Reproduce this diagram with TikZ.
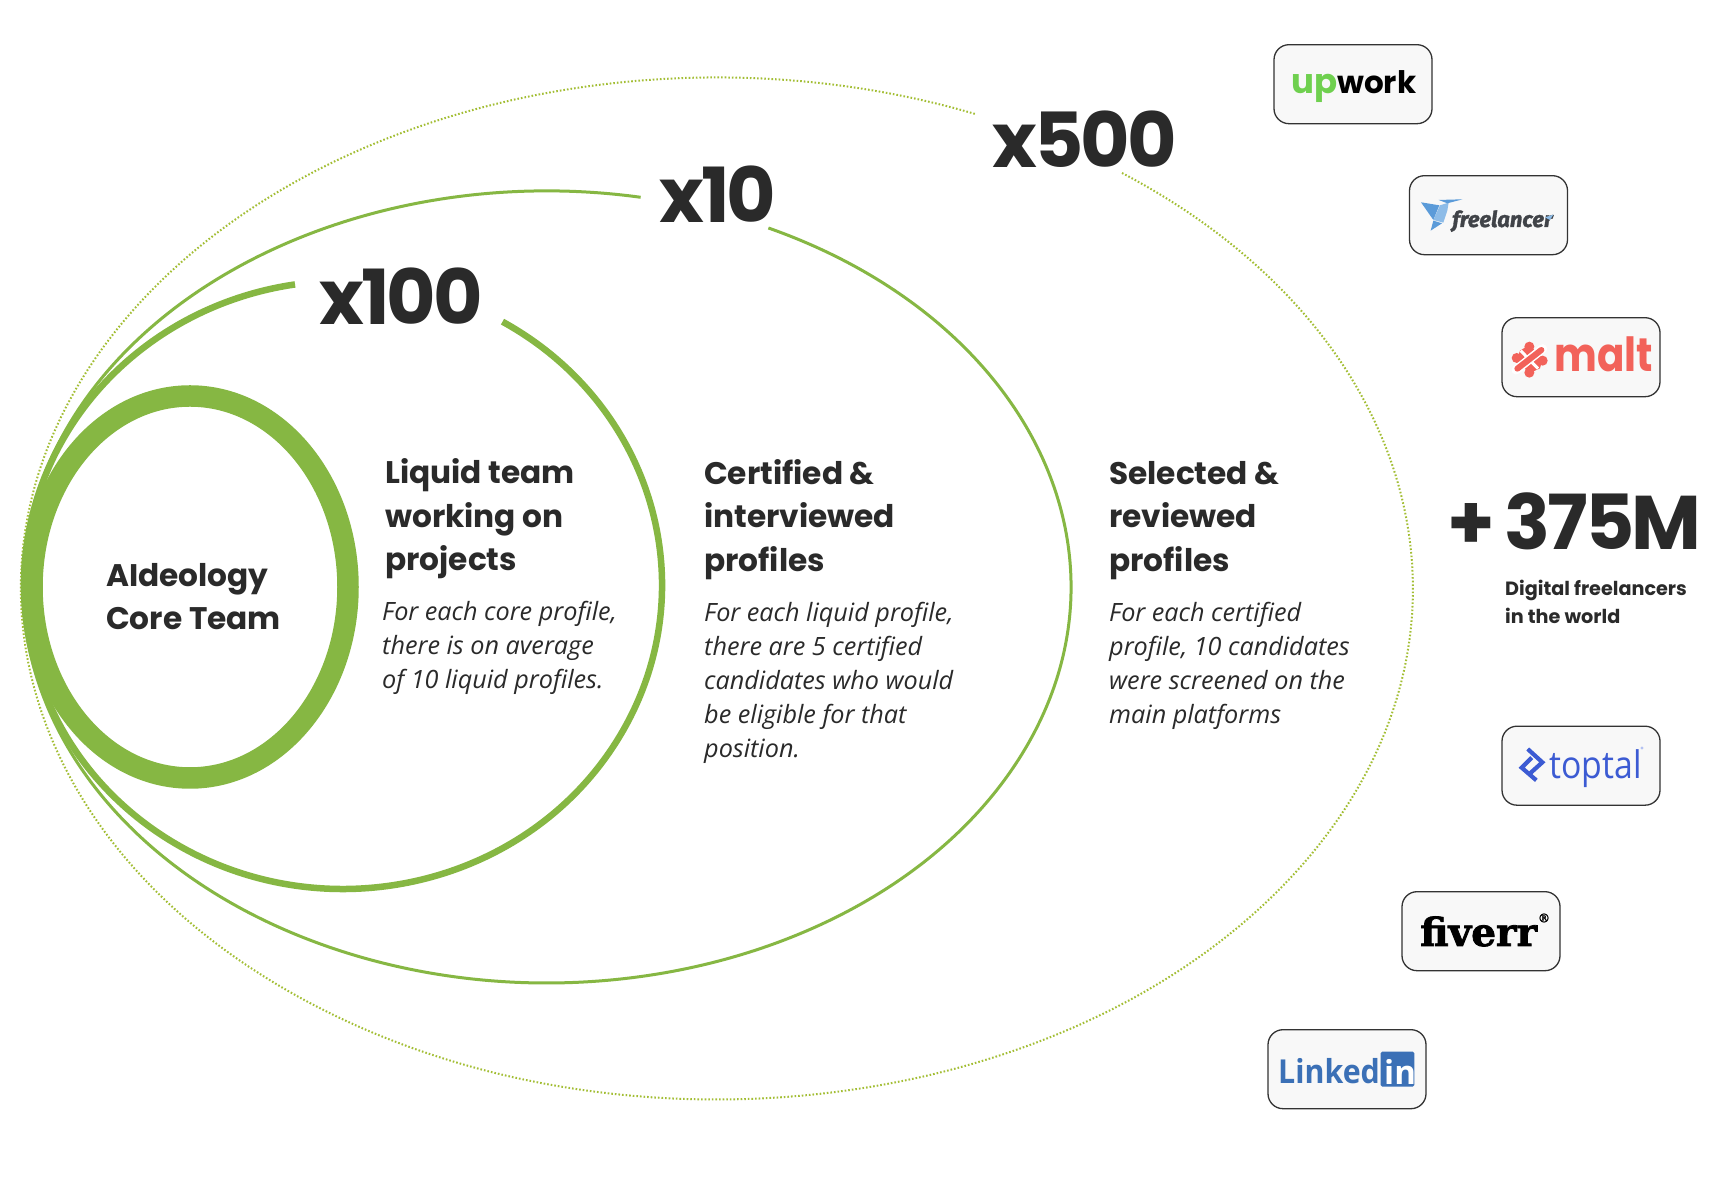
\documentclass[tikz,border=0pt]{standalone}
\usepackage{graphicx}
\usepackage{fontspec}
\setmainfont{Poppins}
\newfontfamily\bigf[LetterSpace=-3.8]{Poppins}
\newfontfamily\bodyf{Open Sans}
\newfontfamily\serf[FakeBold=2]{DejaVu Serif}
\newfontfamily\firaf[FakeBold=1.5]{Fira Sans}
\definecolor{ring}{HTML}{86B743}
\definecolor{dots}{HTML}{A3BE34}
\definecolor{ink}{HTML}{2A2A2A}
\definecolor{boxf}{HTML}{F8F8F8}
\definecolor{boxl}{HTML}{333333}
\definecolor{upg}{HTML}{6FD04F}
\definecolor{flb}{HTML}{5B9BD9}
\definecolor{fll}{HTML}{8DBCE8}
\definecolor{fld}{HTML}{404348}
\definecolor{maltc}{HTML}{F2625A}
\definecolor{topc}{HTML}{3C5BD3}
\definecolor{topl}{HTML}{B4C2F2}
\definecolor{linc}{HTML}{3B70B6}
\tikzset{
  big/.style={anchor=base west,inner sep=0pt,font=\fontsize{76}{76}\selectfont\bigf\bfseries,text=ink},
  head/.style={anchor=north west,inner sep=0pt,align=left,text=ink,font=\fontsize{31.2}{43.5}\selectfont\bfseries},
  body/.style={anchor=north west,inner sep=0pt,align=left,text=ink,font=\fontsize{25.2}{34}\selectfont\bodyf\itshape},
  small/.style={anchor=north west,inner sep=0pt,align=left,text=ink,font=\fontsize{19.2}{27.5}\selectfont\bfseries},
  logobox/.style={draw=boxl,line width=1.3pt,fill=boxf,rounded corners=15pt,minimum width=158pt,minimum height=79pt,inner sep=0pt},
  logotext/.style={anchor=base west,inner sep=0pt},
  zoomA/.style={shift={(1240,1162)},x=0.3333pt,y=-0.3333pt},
  zoomB/.style={shift={(1240,482)},x=0.3333pt,y=-0.3333pt},
}
\begin{document}
\begin{tikzpicture}[x=1pt,y=1pt]
\useasboundingbox[fill=white] (0,0) rectangle (1728,1182);
% rings
\draw[dots,line width=2pt,dash pattern=on 1.6pt off 2pt] (1122,1009) arc[start angle=54.4,end angle=-291.8,x radius=696,y radius=511];
\draw[ring,line width=3pt] (768.4,954) arc[start angle=65,end angle=-280.3,x radius=524,y radius=396];
\draw[ring,line width=6.5pt] (502.5,860.3) arc[start angle=60,end angle=-261.35,x radius=319,y radius=304];
\draw[ring,line width=21.5pt] (190,595) ellipse[x radius=158,y radius=191];
% multipliers
\node[big] (x100) at (319,857) {x100};
\node[big] (x10) at (659,959.5) {x10};
\node[big] (x500) at (992,1014) {x500};
\node[big] (total) at (1447,632) {+\hspace{-4pt} 375M};
% texts
\node[head] (core) at (106,619) {AIdeology\\Core Team};
\node[head] (liquid) at (385,723.5) {Liquid team\\working on\\projects};
\node[body] (liquidb) at (382,581) {For each core profile,\\there is on average\\of 10 liquid profiles.};
\node[head] (cert) at (704,723) {Certified \&\\interviewed\\profiles};
\node[body] (certb) at (704,580) {For each liquid profile,\\there are 5 certified\\candidates who would\\be eligible for that\\position.};
\node[head] (sel) at (1109,721) {Selected \&\\reviewed\\profiles};
\node[body] (selb) at (1109,580) {For each certified\\profile, 10 candidates\\were screened on the\\main platforms};
\node[small] (dig) at (1505,602) {Digital freelancers\\in the world};
% logo boxes
\node[logobox] (upwork) at (1353,1097.8) {};
\node[logobox] (freel) at (1488.5,966.8) {};
\node[logobox] (malt) at (1581,824.8) {};
\node[logobox] (toptal) at (1581,416.3) {};
\node[logobox] (fiverr) at (1481,250.8) {};
\node[logobox] (linked) at (1347,112.8) {};
% upwork
\node[logotext,text=upg,font=\fontsize{34}{34}\selectfont\bfseries] at (1291,1088) {up};
\node[logotext,text=black,font=\fontsize{31}{31}\selectfont\bfseries] at (1337,1088) {work};
% freelancer
\begin{scope}[zoomA]
\fill[flb] (543,547) -- (598,556) -- (580,600) -- cycle;
\fill[fll] (600,556) -- (626,548) -- (622,572) -- (610,608) -- (580,600) -- cycle;
\fill[flb] (572,632) -- (580,602) -- (606,610) -- cycle;
\fill[flb] (596,540) -- (668,538) -- (622,550) -- cycle;
\end{scope}
\node[logotext,text=fld,font=\fontsize{22}{22}\selectfont\firaf\bfseries\itshape] at (1452,955) {freelancer};
\begin{scope}[zoomA]
\fill[fll] (915,592) -- (940,584) -- (930,600) -- cycle;
\end{scope}
% malt
\begin{scope}[shift={(1500,852)},x=0.3333pt,y=-0.3333pt]
\fill[maltc] (88,50) circle[radius=15] (50,84) circle[radius=15] (128,92) circle[radius=15] (88,128) circle[radius=15];
\fill[maltc] (60,62) -- (88,45) -- (128,85) -- (120,115) -- (88,130) -- (50,92) -- cycle;
\draw[white,line width=9pt,line cap=round] (48,120) -- (128,56);
\draw[white,line width=3pt] (62,62) -- (114,116);
\draw[maltc,line width=6pt,line cap=round] (52,116) -- (124,60);
\end{scope}
\node[logotext,text=maltc,font=\fontsize{47}{47}\selectfont\bfseries] at (1554,810) {\scalebox{.86}[1]{malt}};
% toptal
\begin{scope}[shift={(1505,447)},x=0.3333pt,y=-0.3333pt]
\draw[topc,line width=4.2pt,miter limit=4] (68,42) -- (112,82) -- (72,118);
\draw[topc,line width=4.2pt,miter limit=4] (80,68) -- (50,98) -- (94,136);
\end{scope}
\node[logotext,text=topc,font=\fontsize{38}{38}\selectfont\bodyf] at (1549,403) {\scalebox{.89}[1]{toptal}};
\fill[topl] (1642,434) circle[radius=1.6];
% fiverr
\node[logotext,text=black,font=\fontsize{39}{39}\selectfont\serf\bfseries] at (1420,236) {fiverr};
\node[anchor=center,inner sep=0pt,text=black,font=\fontsize{12}{12}\selectfont\serf] at (1544,264) {®};
% linkedin
\node[logotext,text=linc,font=\fontsize{33}{33}\selectfont\bodyf\bfseries] at (1278,98) {\scalebox{.92}[1]{Linked}};
\begin{scope}[zoomB]
\fill[linc,rounded corners=1.5pt] (422,1055) rectangle (523,1160);
\end{scope}
\node[logotext,text=white,font=\fontsize{33}{33}\selectfont\bodyf\bfseries] at (1384,97.5) {in};
\end{tikzpicture}
\end{document}
